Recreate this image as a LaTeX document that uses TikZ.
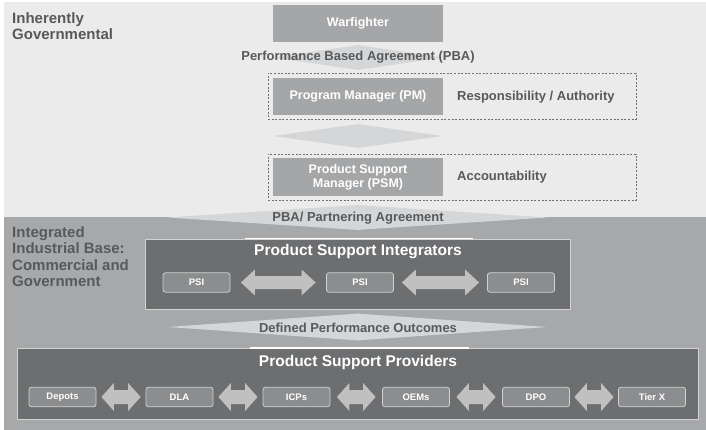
\documentclass[tikz,border=0pt]{standalone}
\usepackage{fontspec}
\setmainfont{Liberation Sans}
\usetikzlibrary{shapes.geometric,calc}
\definecolor{topbg}{HTML}{EBEBEB}
\definecolor{botbg}{HTML}{A7A8AA}
\definecolor{medc}{HTML}{A5A6A8}
\definecolor{darkc}{HTML}{6D6E70}
\definecolor{smallc}{HTML}{8C8D8F}
\definecolor{smallbd}{HTML}{D2D2D2}
\definecolor{arrowc}{HTML}{C0C0C0}
\definecolor{diac}{HTML}{D5D6D7}
\definecolor{txtc}{HTML}{58595B}
\definecolor{dashc}{HTML}{707173}
\newcommand{\fatarrow}[6]{% left node, right node, gap, half head, half shaft, head length
  \fill[arrowc] let \p1=(#1.east), \p2=(#2.west) in
    (\x1+#3,\y1) -- (\x1+#3+#6,\y1+#4) -- (\x1+#3+#6,\y1+#5) -- (\x2-#3-#6,\y1+#5)
    -- (\x2-#3-#6,\y1+#4) -- (\x2-#3,\y1) -- (\x2-#3-#6,\y1-#4) -- (\x2-#3-#6,\y1-#5)
    -- (\x1+#3+#6,\y1-#5) -- (\x1+#3+#6,\y1-#4) -- cycle;
}
\tikzset{
  medbox/.style={fill=medc, text=white, font=\fontsize{12.5}{14}\selectfont\bfseries,
    minimum width=170pt, inner sep=0pt, align=center},
  dashbox/.style={draw=dashc, line width=0.6pt, dash pattern=on 2pt off 1.6pt, inner sep=0pt},
  lbltext/.style={text=txtc, font=\fontsize{13}{15}\selectfont\bfseries, inner sep=0pt},
  sectext/.style={text=txtc, font=\fontsize{15}{16.5}\selectfont\bfseries, inner sep=0pt, align=left},
  bow/.style={diamond, fill=diac, inner sep=0pt},
  groupbox/.style={fill=darkc, draw=smallbd, line width=0.6pt, inner sep=0pt},
  grouptitle/.style={text=white, font=\fontsize{15.5}{17}\selectfont\bfseries, inner sep=0pt},
  smallbox/.style={rounded corners=2.5pt, fill=smallc, draw=smallbd, line width=0.8pt,
    minimum width=67pt, minimum height=19.5pt, inner sep=0pt, text=white,
    font=\fontsize{9.5}{11}\selectfont\bfseries}
}
\begin{document}
\begin{tikzpicture}[x=1pt,y=-1pt]
\useasboundingbox (0,0) rectangle (706,430);
\fill[white] (0,0) rectangle (706,430);
\fill[topbg] (4,2) rectangle (706,217.5);
\fill[botbg] (4,217.5) rectangle (706,430);

% section labels
\node[sectext, anchor=north west] (gov) at (12,12) {Inherently\\Governmental};
\node[sectext, anchor=north west] (ind) at (12,226) {Integrated\\Industrial Base:\\Commercial and\\Government};

% top chain
\node[medbox, minimum height=37pt] (warf) at (358,23.5) {Warfighter};
\node[bow, minimum width=170pt, minimum height=25pt] (d1) at (358,57.5) {};
\node[lbltext] (pba) at (358,57.5) {Performance Based Agreement (PBA)};

\node[dashbox, minimum width=368pt, minimum height=46pt] (pmd) at (452,96) {};
\node[medbox, minimum height=37pt] (pm) at (358,96.5) {Program Manager (PM)};
\node[lbltext, anchor=west] (resp) at (457,97) {Responsibility / Authority};

\node[bow, minimum width=170pt, minimum height=24pt] (d2) at (358,136) {};

\node[dashbox, minimum width=368pt, minimum height=46pt] (psmd) at (452,177) {};
\node[medbox, minimum height=38pt] (psm) at (358,177) {Product Support\\Manager (PSM)};
\node[lbltext, anchor=west] (acc) at (457,177) {Accountability};

\node[bow, minimum width=380pt, minimum height=25pt] (d3) at (357.5,217.5) {};
\node[lbltext] (pbap) at (358,218) {PBA/ Partnering Agreement};

% integrators
\node[groupbox, minimum width=425pt, minimum height=70pt] (psig) at (357.5,274) {};
\draw[white, line width=1.6pt] ($(psig.north)+(-112.5,0)$) -- ($(psig.north)+(115.5,0)$);
\node[grouptitle] (psit) at (358,252) {Product Support Integrators};
\node[smallbox] (psi1) at (196.5,282.5) {PSI};
\node[smallbox] (psi2) at (360,282.5) {PSI};
\node[smallbox] (psi3) at (521,282.5) {PSI};
\fatarrow{psi1}{psi2}{10.5}{13}{6.5}{14}
\fatarrow{psi2}{psi3}{8}{13}{6.5}{14}

\node[bow, minimum width=379pt, minimum height=27pt] (d4) at (357.5,327) {};
\node[lbltext] (dpo) at (358,328) {Defined Performance Outcomes};

% providers
\node[groupbox, minimum width=681pt, minimum height=71pt] (provg) at (357.5,383.5) {};
\draw[white, line width=1.6pt] ($(provg.north)+(-107.5,0)$) -- ($(provg.north)+(111.5,0)$);
\node[grouptitle] (provt) at (358,362) {Product Support Providers};
\node[smallbox] (p1) at (62.5,397) {Depots};
\node[smallbox] (p2) at (179.5,397) {DLA};
\node[smallbox] (p3) at (296.5,397) {ICPs};
\node[smallbox] (p4) at (416,397) {OEMs};
\node[smallbox] (p5) at (536,397) {DPO};
\node[smallbox] (p6) at (652,397) {Tier X};
\fatarrow{p1}{p2}{5}{14}{7}{12.5}
\fatarrow{p2}{p3}{5}{14}{7}{12.5}
\fatarrow{p3}{p4}{6.5}{14}{7}{12.5}
\fatarrow{p4}{p5}{6.5}{14}{7}{12.5}
\fatarrow{p5}{p6}{4.5}{14}{7}{12.5}
\end{tikzpicture}
\end{document}
